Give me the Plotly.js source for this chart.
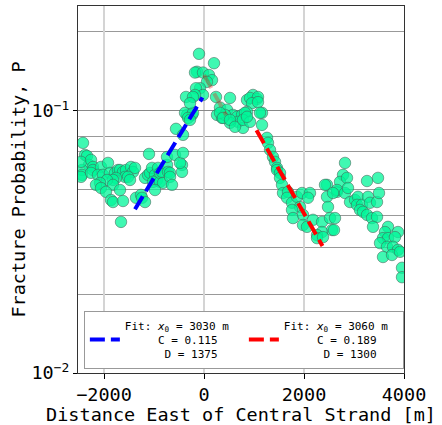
<!DOCTYPE html>
<html>
<head>
<meta charset="utf-8">
<script src="https://cdn.plot.ly/plotly-3.0.1.min.js"></script>
<style>
  html, body { margin: 0; padding: 0; background: #fff; }
  #chart { width: 442px; height: 425px; }
</style>
</head>
<body>
<div id="chart"></div>
<script>
// Fracture probability measurements versus distance east of the central strand
const distance = [
  -2420, -2380, -2340, -2300, -2440, -2460, -2440, -2460, -2260, -2220,
  -2220, -2060, -1920, -2260, -2120, -2020, -1880, -1780, -1720, -1680,
  -1620, -1560, -1460, -1420, -1380, -1580, -1520, -1760, -1820, -1940,
  -1480, -2080, -2160, -1820, -2060, -1960, -1680, -1860, -1820, -1620,
  -1660, -1360, -1260, -1240, -1180, -1100, -1180, -1120, -1080, -1040,
  -980, -920, -940, -1020, -880, -880, -840, -820, -980, -740,
  -740, -720, -680, -680, -640, -580, -440, -440, -480, -420,
  -560, -420, -340, -240, -380, -220, -320, -280,
  -100, 200, -140, -180, -20, 100, 160, 60, -80, -160,
  -20, -180, -360, -220, -280, 240,
  520, 860, 980, 1060, 920, 1080, 960, 1080, 1160, 1160,
  260, 360, 320, 460, 580, 660, 760, 860, 680, 780,
  520, 420, 320, 380, 520, 620, 820, 780, 920, 1120, 860,
  1260, 1280, 1320, 1380, 1420, 1460, 1460, 1520, 1520, 1560,
  1580, 1680, 1660, 1760, 1860, 1960, 2120, 2080, 1920, 1760,
  1780, 1980, 1980, 2180, 2360, 2460, 2460, 2480, 2520, 2560,
  2360, 2260, 2260, 2060, 2380, 2660,
  2820, 2780, 2720, 2860, 2660, 2580, 2820, 2880, 3260, 3480,
  2620, 2600, 2920, 3020, 3080, 3060, 3160, 3120, 3180, 3280,
  3320, 3460, 3500, 3260, 3360, 3460, 3380, 3680, 3620, 3880,
  3580, 3680, 3820, 3520, 3660, 3780, 3880, 3580, 3760, 3920,
  3960, 3960, 2420
];
const probability = [
  0.0755, 0.0679, 0.0673, 0.0622, 0.0595, 0.0639, 0.0570, 0.0560, 0.0650, 0.0611,
  0.0595, 0.0611, 0.0633, 0.0580, 0.0570, 0.0570, 0.0580, 0.0580, 0.0595, 0.0595,
  0.0585, 0.0595, 0.0611, 0.0585, 0.0606, 0.0560, 0.0560, 0.0555, 0.0545, 0.0545,
  0.0545, 0.0531, 0.0522, 0.0522, 0.0508, 0.0491, 0.0499, 0.0457, 0.0449, 0.0453,
  0.0377, 0.0466, 0.0478, 0.0466, 0.0449, 0.0685, 0.0555, 0.0570, 0.0580, 0.0606,
  0.0570, 0.0606, 0.0545, 0.0536, 0.0536, 0.0580, 0.0585, 0.0531, 0.0499, 0.0622,
  0.0667, 0.0585, 0.0580, 0.0560, 0.0522, 0.0679, 0.0622, 0.0585, 0.0633, 0.0691,
  0.0854, 0.0810, 0.0965, 0.0965, 0.0983, 0.0983, 0.0940, 0.0924,
  0.165, 0.152, 0.141, 0.140, 0.140, 0.137, 0.131, 0.129, 0.122, 0.122,
  0.115, 0.115, 0.113, 0.113, 0.107, 0.113,
  0.112, 0.110, 0.115, 0.111, 0.112, 0.113, 0.107, 0.108, 0.0983, 0.0884,
  0.0965, 0.0940, 0.103, 0.101, 0.0965, 0.0949, 0.0965, 0.0991, 0.0908, 0.0861,
  0.0900, 0.0965, 0.0983, 0.0940, 0.0924, 0.0869, 0.0983, 0.0924, 0.0908, 0.0983, 0.0949,
  0.0789, 0.0755, 0.0710, 0.0667, 0.0639, 0.0606, 0.0595, 0.0580, 0.0555, 0.0522,
  0.0486, 0.0491, 0.0466, 0.0446, 0.0470, 0.0486, 0.0486, 0.0466, 0.0430, 0.0419,
  0.0390, 0.0401, 0.0367, 0.0384, 0.0377, 0.0522, 0.0470, 0.0430, 0.0390, 0.0351,
  0.0345, 0.0336, 0.0327, 0.0361, 0.0330, 0.0491,
  0.0633, 0.0570, 0.0536, 0.0555, 0.0499, 0.0486, 0.0486, 0.0508, 0.0540, 0.0555,
  0.0390, 0.0351, 0.0449, 0.0457, 0.0470, 0.0438, 0.0438, 0.0419, 0.0412, 0.0470,
  0.0446, 0.0449, 0.0486, 0.0401, 0.0390, 0.0394, 0.0361, 0.0361, 0.0345, 0.0345,
  0.0327, 0.0327, 0.0330, 0.0313, 0.0303, 0.0303, 0.0295, 0.0277, 0.0282, 0.0290,
  0.0252, 0.0232, 0.0522
];

// Exponential fits P = C * exp(-|x| / D) on each flank
const westFit = { x0: 3030, C: 0.115, D: 1375, xRange: [-1380, -30] };
const eastFit = { x0: 3060, C: 0.189, D: 1300, xRange: [1050, 2370] };
// Faint central segment between the peak and the plateau
const centreX = [0, 440];
const centreP = [0.137, 0.0965];

function fitLine(fit) {
  const p = fit.xRange.map(x => fit.C * Math.exp(-Math.abs(x) / fit.D));
  return { x: fit.xRange, y: p };
}
function fitLabel(fit, pad1, pad2) {
  const nb = n => '\u00A0'.repeat(n);
  return 'Fit: <i>x</i><sub>0</sub> = ' + fit.x0 + ' m<br>' +
         nb(pad1) + 'C = ' + fit.C.toFixed(3) + '<br>' +
         nb(pad2) + 'D = ' + fit.D;
}

const mono = 'DejaVu Sans Mono, monospace';
const westLine = fitLine(westFit);
const eastLine = fitLine(eastFit);

const traces = [
  {
    x: distance, y: probability, type: 'scatter', mode: 'markers',
    showlegend: false, hoverinfo: 'skip',
    marker: { size: 11.5, color: 'rgba(0,245,152,0.75)',
              line: { color: 'rgba(70,100,90,0.55)', width: 1 } }
  },
  {
    x: centreX, y: centreP, type: 'scatter', mode: 'lines', showlegend: false,
    line: { color: 'rgba(255,0,0,0.3)', width: 4, dash: '15px,6px' }
  },
  {
    x: westLine.x, y: westLine.y, type: 'scatter', mode: 'lines',
    name: fitLabel(westFit, 5, 6),
    line: { color: '#0000ff', width: 4, dash: '15px,6px' }
  },
  {
    x: eastLine.x, y: eastLine.y, type: 'scatter', mode: 'lines',
    name: fitLabel(eastFit, 5, 6),
    line: { color: '#ff0000', width: 4, dash: '15px,6px' }
  }
];

// Minor grid values; 0.06 and 0.09 are drawn lighter as separate lines
const minorP = [0.02, 0.03, 0.04, 0.05, 0.07, 0.08, 0.2];
const lightP = [0.06, 0.09];

const shapes = lightP.map(p => ({
  type: 'line', xref: 'paper', x0: 0, x1: 1, yref: 'y',
  y0: Math.log10(p), y1: Math.log10(p), layer: 'below',
  line: { color: '#e4e4e4', width: 1 }
}));

const layout = {
  width: 442, height: 425,
  margin: { l: 78, r: 38, t: 6, b: 52 },
  paper_bgcolor: '#fff', plot_bgcolor: '#fff',
  font: { family: mono, color: '#000', size: 18.5 },
  showlegend: true,
  shapes: shapes,
  legend: {
    orientation: 'h', x: 0.018, y: 0.012, xanchor: 'left', yanchor: 'bottom',
    bgcolor: '#fff', bordercolor: '#999', borderwidth: 1,
    font: { family: mono, size: 11, color: '#000' },
    entrywidth: 114, entrywidthmode: 'pixels', valign: 'middle',
    itemclick: false, tracegroupgap: 0
  },
  xaxis: {
    range: [-2520, 4000], tickvals: [-2000, 0, 2000, 4000],
    ticktext: ['\u22122000', '0', '2000', '4000'],
    ticks: 'outside', ticklen: 5, tickcolor: '#000', tickwidth: 1,
    showgrid: true, gridcolor: '#d4d4d4', gridwidth: 1.5,
    zeroline: false, showline: true, linecolor: '#333', linewidth: 1, mirror: true,
    tickfont: { family: mono, size: 18.5 },
    title: { text: 'Distance East of Central Strand [m]', font: { family: mono, size: 18.5 }, standoff: 4 }
  },
  yaxis: {
    type: 'log', range: [-2, -0.6],
    tickvals: [0.01, 0.1], ticktext: ['10<sup>\u22122</sup>', '10<sup>\u22121</sup>'],
    ticks: 'outside', ticklen: 4, tickcolor: '#000',
    showgrid: true, gridcolor: '#888', gridwidth: 1,
    minor: { tickmode: 'array', tickvals: minorP, showgrid: true, gridcolor: '#999', gridwidth: 1, ticks: '' },
    zeroline: false, showline: true, linecolor: '#333', linewidth: 1, mirror: true,
    tickfont: { family: mono, size: 18.5 },
    title: { text: 'Fracture Probability, P', font: { family: mono, size: 18.5 }, standoff: 0 }
  }
};

Plotly.newPlot('chart', traces, layout, { staticPlot: true, displayModeBar: false });
</script>
</body>
</html>
